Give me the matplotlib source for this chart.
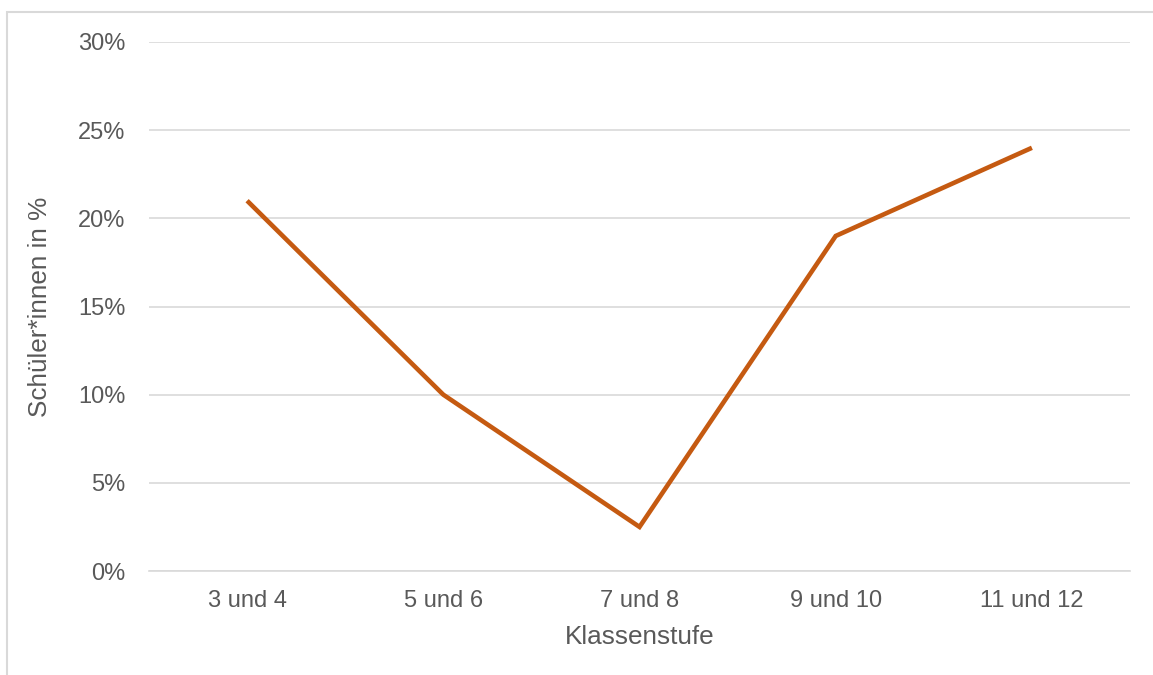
import matplotlib.pyplot as plt
from matplotlib.patches import Rectangle
from matplotlib.ticker import FuncFormatter

# data
klassen = ["3 und 4", "5 und 6", "7 und 8", "9 und 10", "11 und 12"]
anteil = [21, 10, 2.5, 19, 24]
y_ticks = [0, 5, 10, 15, 20, 25, 30]

text_grey = "#595959"
line_col = "#C55A11"

plt.rcParams["font.family"] = ["Liberation Sans", "DejaVu Sans"]

fig = plt.figure(figsize=(11.53, 6.75), dpi=100)
# outer chart frame, partially cut off on the right and bottom like the source
fig.patches.append(Rectangle((7 / 1153, -0.1), 1.2, 1 - 12 / 675 + 0.1,
                             transform=fig.transFigure, fill=False,
                             edgecolor="#D9D9D9", linewidth=1.5))

ax = fig.add_axes([149 / 1153, 1 - 571 / 675, 981 / 1153, 529 / 675])
ax.plot(range(len(klassen)), anteil, color=line_col, linewidth=3.3,
        solid_joinstyle="miter", solid_capstyle="butt", zorder=3)

ax.set_xlim(-0.5, len(klassen) - 0.5)
ax.set_ylim(0, 30)
ax.set_yticks(y_ticks)
ax.yaxis.set_major_formatter(FuncFormatter(lambda v, _: f"{v:.0f}%"))
ax.set_xticks(range(len(klassen)))
ax.set_xticklabels(klassen)

ax.grid(axis="y", color="#D9D9D9", linewidth=1.2)
ax.set_axisbelow(True)
for side in ["top", "right", "left"]:
    ax.spines[side].set_visible(False)
ax.spines["bottom"].set_color("#D9D9D9")
ax.spines["bottom"].set_linewidth(1.2)
ax.tick_params(length=0, labelsize=17, colors=text_grey)
ax.tick_params(axis="y", pad=17)
ax.tick_params(axis="x", pad=14)

ax.set_xlabel("Klassenstufe", fontsize=18.8, color=text_grey, labelpad=9)
ax.set_ylabel("Schüler*innen in %", fontsize=18.8, color=text_grey, labelpad=19)

fig.savefig("out.png", dpi=100, facecolor="white")
